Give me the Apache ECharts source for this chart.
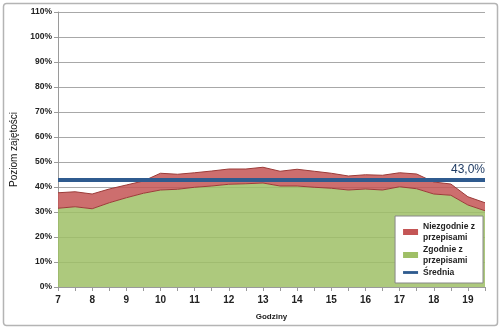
<!DOCTYPE html>
<html>
<head>
<meta charset="utf-8">
<script src="https://cdn.jsdelivr.net/npm/echarts@6/dist/echarts.min.js"></script>
<style>
html,body{margin:0;padding:0;background:#fff;}
#c{width:503px;height:331px;}
</style>
</head>
<body>
<div id="c"></div>
<script>
var hours = ['7:00','7:30','8:00','8:30','9:00','9:30','10:00','10:30','11:00','11:30','12:00','12:30','13:00','13:30','14:00','14:30','15:00','15:30','16:00','16:30','17:00','17:30','18:00','18:30','19:00','19:30'];
var zgodnie = [31.5,32.1,31.3,33.7,35.7,37.5,38.8,39.1,39.9,40.4,41.1,41.3,41.6,40.4,40.4,39.9,39.5,38.8,39.2,38.8,40.1,39.3,37.2,36.7,32.8,30.5];
var niezgodnie = [6.2,6.0,5.9,5.5,5.1,4.9,6.7,6.0,5.8,6.0,6.1,5.9,6.3,5.9,6.7,6.4,6.0,5.6,5.7,5.9,5.6,5.9,4.8,4.5,3.3,3.2];
var srednia = 43.0;
var yTicks = {min: 0, max: 110, interval: 10};

var chart = echarts.init(document.getElementById('c'));
var font = 'Liberation Sans, Arial, sans-serif';
chart.setOption({
  animation: false,
  textStyle: {fontFamily: font},
  graphic: [{
    type: 'rect', shape: {x: 3.5, y: 3.5, width: 494, height: 322, r: 3},
    style: {fill: 'none', stroke: '#b4b4b4', lineWidth: 1.5}, z: -1
  }],
  grid: {left: 58, right: 18, top: 12, bottom: 44},
  legend: {
    orient: 'vertical',
    right: 20, bottom: 48,
    backgroundColor: '#fff',
    borderColor: '#888',
    borderWidth: 1,
    padding: [5, 8, 5, 8],
    itemGap: 1,
    itemWidth: 15, itemHeight: 6,
    textStyle: {fontSize: 8.5, fontWeight: 'bold', color: '#222', lineHeight: 11, fontFamily: font},
    formatter: function (n) { return n.replace(' przepisami', '\nprzepisami'); },
    data: [
      {name: 'Niezgodnie z przepisami', icon: 'rect'},
      {name: 'Zgodnie z przepisami', icon: 'rect'},
      {name: 'Średnia', icon: 'path://M0,0L16,0L16,3L0,3Z', itemStyle: {color: '#2f5b8f'}}
    ]
  },
  xAxis: {
    type: 'category', boundaryGap: false, data: hours,
    name: 'Godziny', nameLocation: 'middle', nameGap: 26,
    nameTextStyle: {fontSize: 8, fontWeight: 'bold', color: '#222'},
    axisLine: {lineStyle: {color: '#9a9a9a', width: 1}},
    axisTick: {interval: 0, length: 4, lineStyle: {color: '#9a9a9a'}},
    axisLabel: {
      interval: 0, margin: 8, fontSize: 10, fontWeight: 'bold', color: '#222',
      formatter: function (v) { return v.indexOf(':00') > 0 ? v.split(':')[0] : ''; }
    },
    splitLine: {show: false}
  },
  yAxis: {
    type: 'value', min: yTicks.min, max: yTicks.max, interval: yTicks.interval,
    name: 'Poziom zajętości', nameLocation: 'middle', nameGap: 28, nameRotate: 90,
    nameTextStyle: {fontSize: 10, color: '#111'},
    axisLine: {show: true, lineStyle: {color: '#9a9a9a'}},
    axisTick: {show: true, length: 4, lineStyle: {color: '#9a9a9a'}},
    axisLabel: {margin: 6, fontSize: 8.5, fontWeight: 'bold', color: '#222',
      formatter: function (v) { return v + '%'; }},
    splitLine: {lineStyle: {color: '#a8a8a8', width: 1}}
  },
  series: [
    {
      name: 'Zgodnie z przepisami', type: 'line', stack: 'a', data: zgodnie,
      symbol: 'none', z: 2,
      lineStyle: {color: '#9b3b38', width: 1},
      itemStyle: {color: '#9fbf66'},
      areaStyle: {color: '#9fbf66', opacity: 0.85}
    },
    {
      name: 'Niezgodnie z przepisami', type: 'line', stack: 'a', data: niezgodnie,
      symbol: 'none', z: 2,
      lineStyle: {color: '#9b3b38', width: 1},
      itemStyle: {color: '#c45555'},
      areaStyle: {color: '#c45555', opacity: 0.85}
    },
    {
      name: 'Średnia', type: 'line', data: [], symbol: 'none', z: 4,
      itemStyle: {color: '#2f5b8f'},
      lineStyle: {color: '#2f5b8f', width: 4},
      markLine: {
        symbol: 'none', silent: true,
        lineStyle: {color: '#2f5b8f', width: 4, type: 'solid'},
        label: {
          position: 'insideEndTop', distance: [0, 4],
          formatter: function () { return srednia.toFixed(1).replace('.', ',') + '%'; },
          fontSize: 12, color: '#1f3b63', fontFamily: font
        },
        data: [{yAxis: srednia}]
      }
    }
  ]
});
</script>
</body>
</html>
